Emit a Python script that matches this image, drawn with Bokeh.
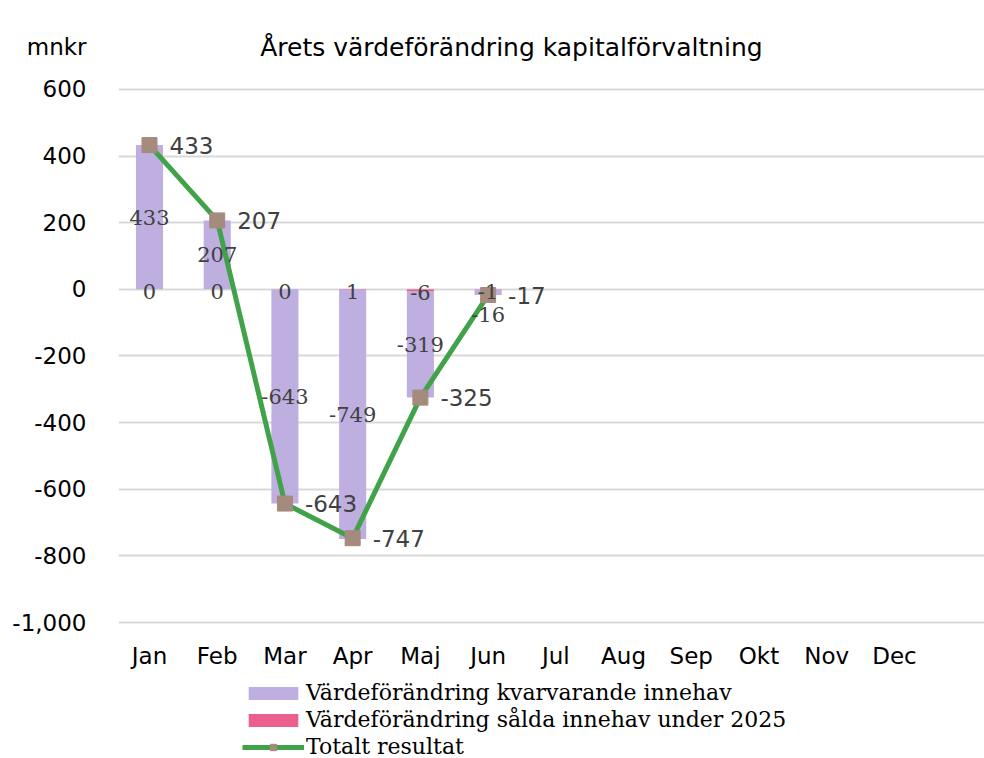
from bokeh.plotting import figure
from bokeh.layouts import column
from bokeh.models import (ColumnDataSource, Range1d, Label, Legend, LegendItem,
                          FixedTicker, CustomJSTickFormatter)
from bokeh.embed import file_html
from bokeh.resources import INLINE

# ---- data ----
MONTHS = ["Jan", "Feb", "Mar", "Apr", "Maj", "Jun", "Jul", "Aug", "Sep", "Okt", "Nov", "Dec"]
kvarvarande = [433, 207, -643, -749, -319, -16]
salda = [0, 0, 0, 1, -6, -1]
totalt = [433, 207, -643, -747, -325, -17]
Y_TICKS = [-1000, -800, -600, -400, -200, 0, 200, 400, 600]
UNIT = "mnkr"
TITLE = "Årets värdeförändring kapitalförvaltning"
SERIES = ["Värdeförändring kvarvarande innehav",
          "Värdeförändring sålda innehav under 2025",
          "Totalt resultat"]

PURPLE = "#bfaee0"
PINK = "#ec5f8c"
GREEN = "#40a349"
MARKER = "#a58a7e"
LABEL_GRAY = "#404040"
SANS = "DejaVu Sans"
SERIF = "DejaVu Serif"

n = len(kvarvarande)
xs = list(range(n))

# stacking (Excel-like: positives and negatives stacked separately, sold first)
pos = [0.0] * n
neg = [0.0] * n
stacks = {}
for name, vals in (("salda", salda), ("kvar", kvarvarande)):
    bottoms, tops = [], []
    for i, v in enumerate(vals):
        if v >= 0:
            b = pos[i]; t = b + v; pos[i] = t
        else:
            b = neg[i]; t = b + v; neg[i] = t
        bottoms.append(b); tops.append(t)
    stacks[name] = (bottoms, tops)

UNIT_POS = 726  # axis position used for the unit text above the top tick

p = figure(width=984, height=679, output_backend="svg", toolbar_location=None,
           x_range=Range1d(-0.4577, 12.33), y_range=Range1d(-1006, 867),
           min_border_left=118, min_border_right=0, min_border_top=0,
           min_border_bottom=55)
p.outline_line_color = None
p.background_fill_color = "white"
p.border_fill_color = "white"

# axes
p.xaxis.ticker = FixedTicker(ticks=list(range(len(MONTHS))))
p.xaxis.major_label_overrides = {i: m for i, m in enumerate(MONTHS)}
p.yaxis.ticker = FixedTicker(ticks=Y_TICKS + [UNIT_POS])
p.yaxis.formatter = CustomJSTickFormatter(
    args=dict(unit=UNIT, upos=UNIT_POS),
    code="if (tick == upos) { return unit; } return tick.toLocaleString('en-US');")
for ax in (p.xaxis, p.yaxis):
    ax.axis_line_color = None
    ax.major_tick_line_color = None
    ax.minor_tick_line_color = None
    ax.major_label_text_font = SANS
    ax.major_label_text_font_size = "23px"
    ax.major_label_text_color = "#000000"
p.yaxis.major_label_standoff = 26
p.xaxis.major_label_standoff = 12
p.xgrid.grid_line_color = None
p.ygrid.ticker = FixedTicker(ticks=Y_TICKS)
p.ygrid.grid_line_color = "#d9d9d9"
p.ygrid.grid_line_width = 2

# bars
src_s = ColumnDataSource(dict(x=xs, bottom=stacks["salda"][0], top=stacks["salda"][1]))
src_k = ColumnDataSource(dict(x=xs, bottom=stacks["kvar"][0], top=stacks["kvar"][1]))
r_k = p.vbar(x="x", bottom="bottom", top="top", width=0.4, source=src_k,
             fill_color=PURPLE, line_color=None)
r_s = p.vbar(x="x", bottom="bottom", top="top", width=0.4, source=src_s,
             fill_color=PINK, line_color=None)

# total line
src_t = ColumnDataSource(dict(x=xs, y=totalt, t=[str(v) for v in totalt]))
r_l = p.line(x="x", y="y", source=src_t, line_color=GREEN, line_width=5)
r_m = p.scatter(x="x", y="y", source=src_t, marker="square", size=15,
                fill_color=MARKER, line_color=MARKER)

# bar labels (drawn above the line, as in the original)
k_off = [0, 0, 0, 0, 0, 22]  # Jun label pushed down to avoid overlap (style)
src_kl = ColumnDataSource(dict(
    x=xs, y=[(b + t) / 2 for b, t in zip(*stacks["kvar"])],
    t=[str(v) for v in kvarvarande], off=k_off))
src_sl = ColumnDataSource(dict(
    x=xs, y=[(b + t) / 2 for b, t in zip(*stacks["salda"])],
    t=[str(v) for v in salda]))
p.text(x="x", y="y", text="t", source=src_kl, text_align="center",
       text_baseline="middle", text_font={"value": SERIF},
       text_font_size="21px", text_color=LABEL_GRAY, y_offset="off")
p.text(x="x", y="y", text="t", source=src_sl, text_align="center",
       text_baseline="middle", text_font={"value": SERIF},
       text_font_size="21px", text_color=LABEL_GRAY, y_offset=2)

# total labels
p.text(x="x", y="y", text="t", source=src_t, text_align="left",
       text_baseline="middle", text_font={"value": SANS},
       text_font_size="23px", text_color=LABEL_GRAY, x_offset=20)

# title (inside the frame's top area)
p.add_layout(Label(x=393, y=577, x_units="screen", y_units="screen",
                   text=TITLE, text_align="center", text_baseline="middle",
                   text_font=SANS, text_font_size="25px", text_color="#000000"))

# legend strip below the chart: same series sources, drawn out of view,
# so only their legend glyphs appear
lg = figure(width=984, height=79, output_backend="svg", toolbar_location=None,
            x_axis_type=None, y_axis_type=None, min_border=0,
            x_range=Range1d(-0.4577, 12.33), y_range=Range1d(5000, 6000))
lg.outline_line_color = None
lg.grid.visible = False
lk = lg.vbar(x="x", bottom="bottom", top="top", width=0.4, source=src_k,
             fill_color=PURPLE, line_color=None)
ls = lg.vbar(x="x", bottom="bottom", top="top", width=0.4, source=src_s,
             fill_color=PINK, line_color=None)
ll = lg.line(x="x", y="y", source=src_t, line_color=GREEN, line_width=5)
lm = lg.scatter(x="x", y="y", source=src_t, marker="square", size=15,
                fill_color=MARKER, line_color=MARKER)
legend = Legend(items=[
    LegendItem(label=SERIES[0], renderers=[lk]),
    LegendItem(label=SERIES[1], renderers=[ls]),
    LegendItem(label=SERIES[2], renderers=[ll, lm]),
], location=(124, -2), orientation="vertical")
legend.label_text_font = SERIF
legend.label_text_font_size = "22px"
legend.label_text_color = "#000000"
legend.glyph_width = 62
legend.glyph_height = 16
legend.label_height = 27
legend.label_standoff = 2
legend.spacing = 0
legend.padding = 0
legend.margin = 0
legend.border_line_color = None
legend.background_fill_alpha = 0
lg.add_layout(legend, "center")

layout = column(p, lg, spacing=0)
open("out.html", "w").write(file_html(layout, INLINE))
